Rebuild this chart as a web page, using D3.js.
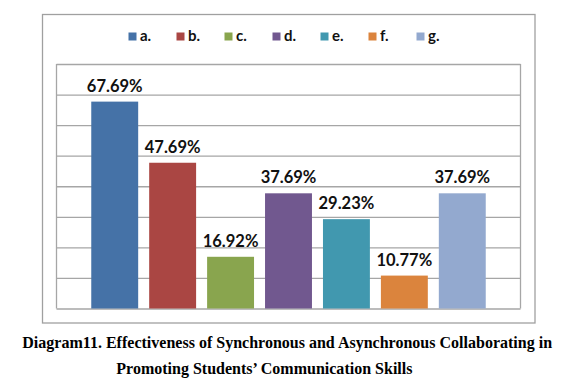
<!DOCTYPE html>
<html>
<head>
<meta charset="utf-8">
<script src="https://cdn.jsdelivr.net/npm/d3@7"></script>
<style>
  body { margin: 0; background: #fff; }
  svg { display: block; }
  .grid line { stroke: #a6a6a6; stroke-width: 1.3; }
  .grid path { display: none; }
</style>
</head>
<body>
<svg id="chart" width="573" height="389"></svg>
<script>
// chart values
var categories = ["a.", "b.", "c.", "d.", "e.", "f.", "g."];
var values = [67.69, 47.69, 16.92, 37.69, 29.23, 10.77, 37.69];
var colors = ["#4572a7", "#aa4643", "#89a54e", "#71588f", "#4198af", "#db843d", "#93a9cf"];
var yTicks = [0, 10, 20, 30, 40, 50, 60, 70, 80];
var captionLines = [
  "Diagram11. Effectiveness of Synchronous and Asynchronous Collaborating in",
  "Promoting Students\u2019 Communication Skills"
];

var svg = d3.select("#chart");
var W = +svg.attr("width"), H = +svg.attr("height");

var frame = {left: 42.5, top: 14.5, right: 535, bottom: 323};
var plot = {left: 56.5, top: 64, right: 520.5, bottom: 308.5};

svg.append("rect").attr("width", W).attr("height", H).attr("fill", "#fff");

// outer chart border
svg.append("rect")
    .attr("x", frame.left).attr("y", frame.top)
    .attr("width", frame.right - frame.left)
    .attr("height", frame.bottom - frame.top)
    .attr("fill", "none").attr("stroke", "#a0a0a0").attr("stroke-width", 1.3);

var x = d3.scaleBand()
    .domain(categories)
    .range([plot.left, plot.right])
    .paddingInner(0.19)
    .paddingOuter(0.6);

var y = d3.scaleLinear()
    .domain([0, 80])
    .range([plot.bottom, plot.top]);

// gridlines (no labels)
svg.append("g")
    .attr("class", "grid")
    .attr("transform", "translate(" + plot.left + ",0)")
    .call(d3.axisLeft(y).tickValues(yTicks).tickSize(-(plot.right - plot.left)).tickFormat(""));

// plot area side borders
svg.append("line")
    .attr("x1", plot.left).attr("x2", plot.left)
    .attr("y1", plot.top).attr("y2", plot.bottom)
    .attr("stroke", "#a6a6a6").attr("stroke-width", 1.3);
svg.append("line")
    .attr("x1", plot.right).attr("x2", plot.right)
    .attr("y1", plot.top).attr("y2", plot.bottom)
    .attr("stroke", "#a6a6a6").attr("stroke-width", 1.3);

// bars
svg.append("g").selectAll("rect")
    .data(values)
  .enter().append("rect")
    .attr("x", function(d, i) { return x(categories[i]); })
    .attr("y", function(d) { return y(d); })
    .attr("width", x.bandwidth())
    .attr("height", function(d) { return y(0) - y(d); })
    .attr("fill", function(d, i) { return colors[i]; });

// value labels
var fmt = d3.format(".2f");
svg.append("g").selectAll("text")
    .data(values)
  .enter().append("text")
    .attr("x", function(d, i) { return x(categories[i]) + x.bandwidth() / 2; })
    .attr("y", function(d) { return y(d) - 10; })
    .attr("text-anchor", "middle")
    .attr("font-family", "Lato, 'Open Sans', sans-serif")
    .attr("font-weight", "bold")
    .attr("font-size", "16.5px")
    .attr("fill", "#111")
    .text(function(d) { return fmt(d) + "%"; });

// legend
var legendStep = 48;
var legend = svg.append("g")
    .attr("transform", "translate(128.5,32.5)")
  .selectAll("g")
    .data(categories)
  .enter().append("g")
    .attr("transform", function(d, i) { return "translate(" + (i * legendStep) + ",0)"; });

legend.append("rect")
    .attr("width", 8).attr("height", 8)
    .attr("fill", function(d, i) { return colors[i]; });

legend.append("text")
    .attr("x", 11.5)
    .attr("y", 8.8)
    .attr("font-family", "Lato, 'Open Sans', sans-serif")
    .attr("font-weight", "bold")
    .attr("font-size", "15px")
    .attr("fill", "#111")
    .text(function(d) { return d; });

// caption
var cap1 = svg.append("text")
    .attr("x", 22.3)
    .attr("y", 347.7)
    .attr("font-family", "'Liberation Serif', 'Times New Roman', serif")
    .attr("font-weight", "bold")
    .attr("font-size", "15px")
    .attr("fill", "#000")
    .text(captionLines[0]);

// fit caption font size to the reference line width
var targetWidth = 530;
var capSize = 15 * targetWidth / cap1.node().getComputedTextLength();
cap1.attr("font-size", capSize + "px");

svg.append("text")
    .attr("x", 116.3)
    .attr("y", 374.3)
    .attr("font-family", "'Liberation Serif', 'Times New Roman', serif")
    .attr("font-weight", "bold")
    .attr("font-size", capSize + "px")
    .attr("fill", "#000")
    .text(captionLines[1]);
</script>
</body>
</html>
